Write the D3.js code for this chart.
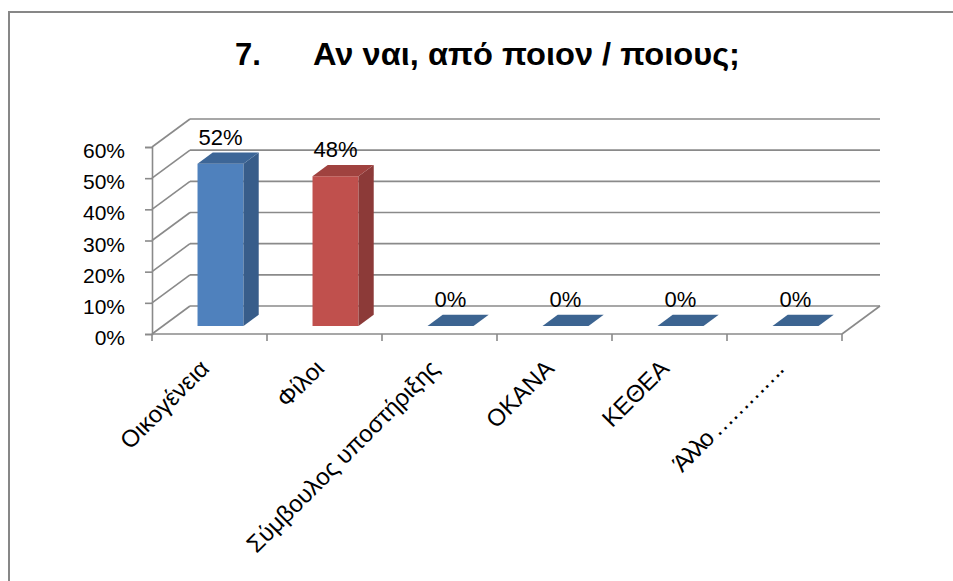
<!DOCTYPE html>
<html>
<head>
<meta charset="utf-8">
<script src="https://cdn.jsdelivr.net/npm/d3@7"></script>
<style>
  html, body { margin: 0; padding: 0; background: #fff; }
  svg { display: block; font-family: "Liberation Sans", "DejaVu Sans", sans-serif; }
</style>
</head>
<body>
<svg id="chart" width="953" height="581"></svg>
<script>
// Survey question 7 – share of answers per source of help
const categories = ["Οικογένεια", "Φίλοι", "Σύμβουλος υποστήριξης", "ΟΚΑΝΑ", "ΚΕΘΕΑ", "Άλλο …………."];
const values = [0.52, 0.48, 0, 0, 0, 0];
const valueLabels = ["52%", "48%", "0%", "0%", "0%", "0%"];
const yTicks = [0, 0.1, 0.2, 0.3, 0.4, 0.5, 0.6];
const titleNumber = "7.";
const titleText = "Αν ναι, από ποιον / ποιους;";

// face colours per bar: front, side, top
const barColors = [
  { front: "#4F81BD", side: "#385D8A", top: "#3D6697" },
  { front: "#C0504D", side: "#8C3A38", top: "#A0423F" },
  { front: "#4F81BD", side: "#385D8A", top: "#3C6491" },
  { front: "#4F81BD", side: "#385D8A", top: "#3C6491" },
  { front: "#4F81BD", side: "#385D8A", top: "#3C6491" },
  { front: "#4F81BD", side: "#385D8A", top: "#3C6491" }
];

const svg = d3.select("#chart");
const FONT = "'Liberation Sans', 'DejaVu Sans', sans-serif";

// outer chart frame (runs past the right and bottom edges)
svg.append("rect")
  .attr("x", 9).attr("y", 12)
  .attr("width", 1000).attr("height", 640)
  .attr("fill", "none").attr("stroke", "#878787").attr("stroke-width", 2);

// title
const title = svg.append("g").attr("font-weight", "bold").attr("fill", "#000").attr("font-size", 31);
title.append("text").attr("x", 235).attr("y", 65).text(titleNumber);
title.append("text").attr("x", 313).attr("y", 65)
  .attr("textLength", 427).attr("lengthAdjust", "spacingAndGlyphs")
  .text(titleText);

// 3-D plot geometry
const DX = 38, DY = -28;          // wall depth offset
const x = d3.scaleBand().domain(categories).range([152, 842]).paddingInner(0).paddingOuter(0);
const y = d3.scaleLinear().domain([0, 0.6]).range([334, 147]);

const gridColor = "#8a8a8a";
const grid = svg.append("g").attr("stroke", gridColor).attr("stroke-width", 1.6).attr("fill", "none");
const x0 = x.range()[0], x1 = x.range()[1];

// back wall gridlines and side-wall diagonals
yTicks.forEach(t => {
  grid.append("line")
    .attr("x1", x0 + DX).attr("y1", y(t) + DY)
    .attr("x2", x1 + DX).attr("y2", y(t) + DY);
  grid.append("line")
    .attr("x1", x0).attr("y1", y(t))
    .attr("x2", x0 + DX).attr("y2", y(t) + DY);
});
// floor front edge and right edge
grid.append("line").attr("x1", x0).attr("y1", y(0)).attr("x2", x1).attr("y2", y(0));
grid.append("line").attr("x1", x1).attr("y1", y(0)).attr("x2", x1 + DX).attr("y2", y(0) + DY);
// category boundary ticks
d3.range(categories.length + 1).forEach(i => {
  const xx = x0 + i * x.step();
  grid.append("line").attr("x1", xx).attr("y1", y(0)).attr("x2", xx).attr("y2", y(0) + 7);
});

// y axis
const yAxis = svg.append("g")
  .attr("transform", `translate(${x0},0)`)
  .call(d3.axisLeft(y).tickValues(yTicks).tickFormat(d3.format(".0%")).tickSize(7).tickPadding(20));
yAxis.select(".domain").attr("stroke", gridColor).attr("stroke-width", 1.6);
yAxis.selectAll(".tick line").attr("stroke", gridColor).attr("stroke-width", 1.6);
yAxis.selectAll(".tick text")
  .attr("font-size", 21).attr("fill", "#000")
  .attr("font-family", FONT)
  .attr("dy", "0.5em");

// bars
const F0 = 0.29, T = 0.4, BW = 0.4;   // bar depth position, thickness, width share
const bars = svg.append("g");
categories.forEach((c, i) => {
  const v = values[i];
  const col = barColors[i];
  const bw = x.bandwidth() * BW;
  const cx = x(c) + x.bandwidth() / 2 + DX * F0;
  const bx0 = cx - bw / 2, bx1 = cx + bw / 2;
  const yb = y(0) + DY * F0, yt = y(v) + DY * F0;
  const dx = DX * T, dy = DY * T;
  const g = bars.append("g");
  if (v > 0) {
    g.append("polygon").attr("fill", col.front)
      .attr("points", [[bx0, yb], [bx1, yb], [bx1, yt], [bx0, yt]].join(" "));
    g.append("polygon").attr("fill", col.side)
      .attr("points", [[bx1, yb], [bx1 + dx, yb + dy], [bx1 + dx, yt + dy], [bx1, yt]].join(" "));
  }
  g.append("polygon").attr("fill", col.top)
    .attr("points", [[bx0, yt], [bx0 + dx, yt + dy], [bx1 + dx, yt + dy], [bx1, yt]].join(" "));

  // value label
  svg.append("text")
    .attr("x", cx).attr("y", yt - 19)
    .attr("text-anchor", "middle")
    .attr("font-size", 22).attr("fill", "#000")
    .text(valueLabels[i]);
});

// category labels, rotated
const catAxis = svg.append("g");
categories.forEach(c => {
  const cx = x(c) + x.bandwidth() / 2;
  const t = catAxis.append("text")
    .attr("transform", `translate(${cx + 1},370) rotate(-45)`)
    .attr("text-anchor", "end")
    .attr("font-size", 24).attr("fill", "#000")
    .text(c);
  // the dotted filler runs tighter than the ellipsis glyphs of this font
  if (c.includes("…")) {
    const len = t.node().getComputedTextLength();
    t.attr("textLength", len * 0.9).attr("lengthAdjust", "spacing");
  }
});
</script>
</body>
</html>
